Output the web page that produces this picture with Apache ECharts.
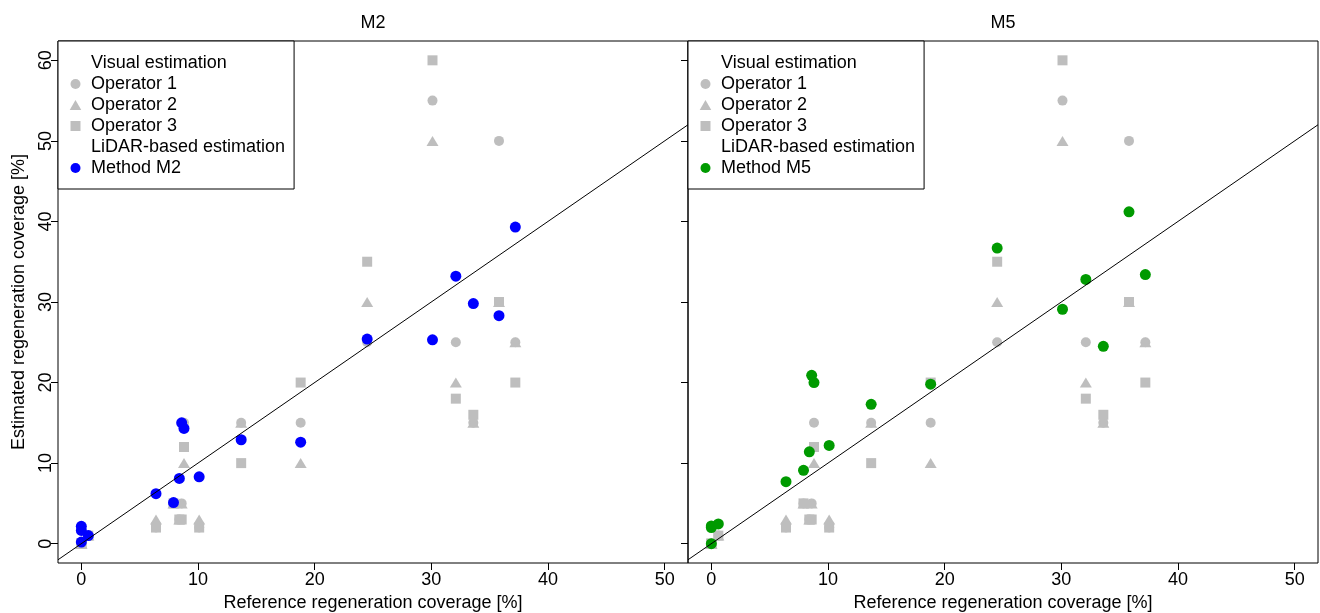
<!DOCTYPE html>
<html>
<head>
<meta charset="utf-8">
<script src="https://cdn.jsdelivr.net/npm/echarts@6/dist/echarts.min.js"></script>
<style>
  html, body { margin: 0; padding: 0; background: #ffffff; }
  #chart { width: 1320px; height: 613px; }
</style>
</head>
<body>
<div id="chart"></div>
<script>
// Reference (field-measured) regeneration coverage per plot [%]
const refCover  = [0, 0, 0.6, 0, 6.4, 7.9, 8.4, 8.6, 8.8, 10.1, 13.7, 18.8, 24.5, 30.1, 32.1, 33.6, 35.8, 37.2];
// Visual estimates by three operators [%]
const operator1 = [0, 0, 1, 0, 2, 5, 3, 5, 15, 2, 15, 15, 25, 55, 25, 15, 50, 25];
const operator2 = [0, 0, 1, 0, 3, 5, 3, 5, 10, 3, 15, 10, 30, 50, 20, 15, 30, 25];
const operator3 = [0, 0, 1, 0, 2, 5, 3, 3, 12, 2, 10, 20, 35, 60, 18, 16, 30, 20];
// LiDAR-based estimates [%]
const methodM2  = [2.15, 1.65, 1.0, 0.2, 6.2, 5.1, 8.1, 15.0, 14.3, 8.3, 12.9, 12.6, 25.4, 25.3, 33.2, 29.8, 28.3, 39.3];
const methodM5  = [2.2, 2.0, 2.45, 0.0, 7.7, 9.1, 11.4, 20.9, 20.0, 12.2, 17.3, 19.8, 36.7, 29.1, 32.8, 24.5, 41.2, 33.4];
// Axis tick values
const xTicks = [0, 10, 20, 30, 40, 50];
const yTicks = [0, 10, 20, 30, 40, 50, 60];

const panelNames = ['M2', 'M5'];
const panelMethods = [methodM2, methodM5];
const panelColors = ['#0000ff', '#009a00'];

const FONT = 'Liberation Sans';
const GREY = '#bebebe';
const X_RANGE = [-2, 52];
const Y_RANGE = [-2.4, 62.4];

// Marker shapes that keep their proportions inside the legend icon box
const TRIANGLE_PATH = 'path://M0,10L5.77,0L11.55,10Z';
const SQUARE_PATH = 'path://M0,0L10,0L10,10L0,10Z';

const pairs = (xs, ys) => xs.map((x, i) => [x, ys[i]]);

const grids = [], xAxes = [], yAxes = [], series = [], titles = [], legends = [];

panelNames.forEach((name, p) => {
  const left = 58 + p * 630;
  grids.push({ left: left, top: 41, width: 630, height: 522, show: true,
               outerBoundsMode: 'none', containLabel: false,
               borderColor: '#000', borderWidth: 1, backgroundColor: 'transparent' });

  xAxes.push({
    gridIndex: p, type: 'value', min: X_RANGE[0], max: X_RANGE[1],
    axisLine: { show: false, onZero: false }, splitLine: { show: false },
    axisTick: { show: true, inside: false, customValues: xTicks, length: 7,
                lineStyle: { color: '#000', width: 1 } },
    axisLabel: { customValues: xTicks, fontSize: 18, fontFamily: FONT, color: '#000', margin: 8 },
    name: 'Reference regeneration coverage [%]', nameLocation: 'middle', nameGap: 31,
    nameTextStyle: { fontSize: 18, fontFamily: FONT, color: '#000' }
  });

  yAxes.push({
    gridIndex: p, type: 'value', min: Y_RANGE[0], max: Y_RANGE[1],
    axisLine: { show: false, onZero: false }, splitLine: { show: false },
    axisTick: { show: true, inside: false, customValues: yTicks, length: 7,
                lineStyle: { color: '#000', width: 1 } },
    axisLabel: { show: p === 0, customValues: yTicks, rotate: 90, fontSize: 18, fontFamily: FONT,
                 color: '#000', margin: 3 },
    name: p === 0 ? 'Estimated regeneration coverage [%]' : '',
    nameLocation: 'middle', nameGap: 30,
    nameTextStyle: { fontSize: 18, fontFamily: FONT, color: '#000' }
  });

  titles.push({ text: name, left: left + 315, top: 14, textAlign: 'center', padding: 0,
                textStyle: { fontSize: 18, fontWeight: 'normal', fontFamily: FONT, color: '#000' } });

  const methodName = 'Method ' + name;
  const headerStyle = { color: 'rgba(0,0,0,0)' };

  // Legend headings (no marker)
  series.push({ name: 'Visual estimation', type: 'scatter', xAxisIndex: p, yAxisIndex: p,
                data: [], itemStyle: headerStyle });
  series.push({ name: 'LiDAR-based estimation', type: 'scatter', xAxisIndex: p, yAxisIndex: p,
                data: [], itemStyle: headerStyle });

  // Visual estimates
  series.push({ name: 'Operator 1', type: 'scatter', xAxisIndex: p, yAxisIndex: p,
                symbol: 'circle', symbolSize: 10, itemStyle: { color: GREY, opacity: 1 },
                data: pairs(refCover, operator1), z: 2 });
  series.push({ name: 'Operator 2', type: 'scatter', xAxisIndex: p, yAxisIndex: p,
                symbol: 'triangle', symbolSize: [12, 10], itemStyle: { color: GREY, opacity: 1 },
                data: pairs(refCover, operator2), z: 2 });
  series.push({ name: 'Operator 3', type: 'scatter', xAxisIndex: p, yAxisIndex: p,
                symbol: 'rect', symbolSize: 10, itemStyle: { color: GREY, opacity: 1 },
                data: pairs(refCover, operator3), z: 2 });

  // LiDAR method
  series.push({ name: methodName, type: 'scatter', xAxisIndex: p, yAxisIndex: p,
                symbol: 'circle', symbolSize: 11, itemStyle: { color: panelColors[p], opacity: 1 },
                data: pairs(refCover, panelMethods[p]), z: 3 });

  // 1:1 line across the axis range
  series.push({ name: 'identity', type: 'line', xAxisIndex: p, yAxisIndex: p,
                data: X_RANGE.map(v => [v, v]), symbol: 'none', clip: true, silent: true,
                lineStyle: { color: '#000', width: 1 }, z: 4 });

  legends.push({
    left: left, top: 41, orient: 'vertical', selectedMode: false,
    backgroundColor: '#fff', borderColor: '#000', borderWidth: 1,
    padding: [13, 9, 12, 7], itemGap: 3, itemWidth: 21, itemHeight: 10,
    symbolKeepAspect: true,
    textStyle: { fontSize: 18, fontFamily: FONT, color: '#000' },
    data: [
      { name: 'Visual estimation', icon: 'rect' },
      { name: 'Operator 1', icon: 'circle' },
      { name: 'Operator 2', icon: TRIANGLE_PATH },
      { name: 'Operator 3', icon: SQUARE_PATH },
      { name: 'LiDAR-based estimation', icon: 'rect' },
      { name: methodName, icon: 'circle' }
    ],
    z: 10
  });
});

const chart = echarts.init(document.getElementById('chart'), null, { renderer: 'canvas' });
chart.setOption({
  animation: false,
  backgroundColor: '#ffffff',
  title: titles,
  grid: grids,
  xAxis: xAxes,
  yAxis: yAxes,
  legend: legends,
  series: series
});
</script>
</body>
</html>
